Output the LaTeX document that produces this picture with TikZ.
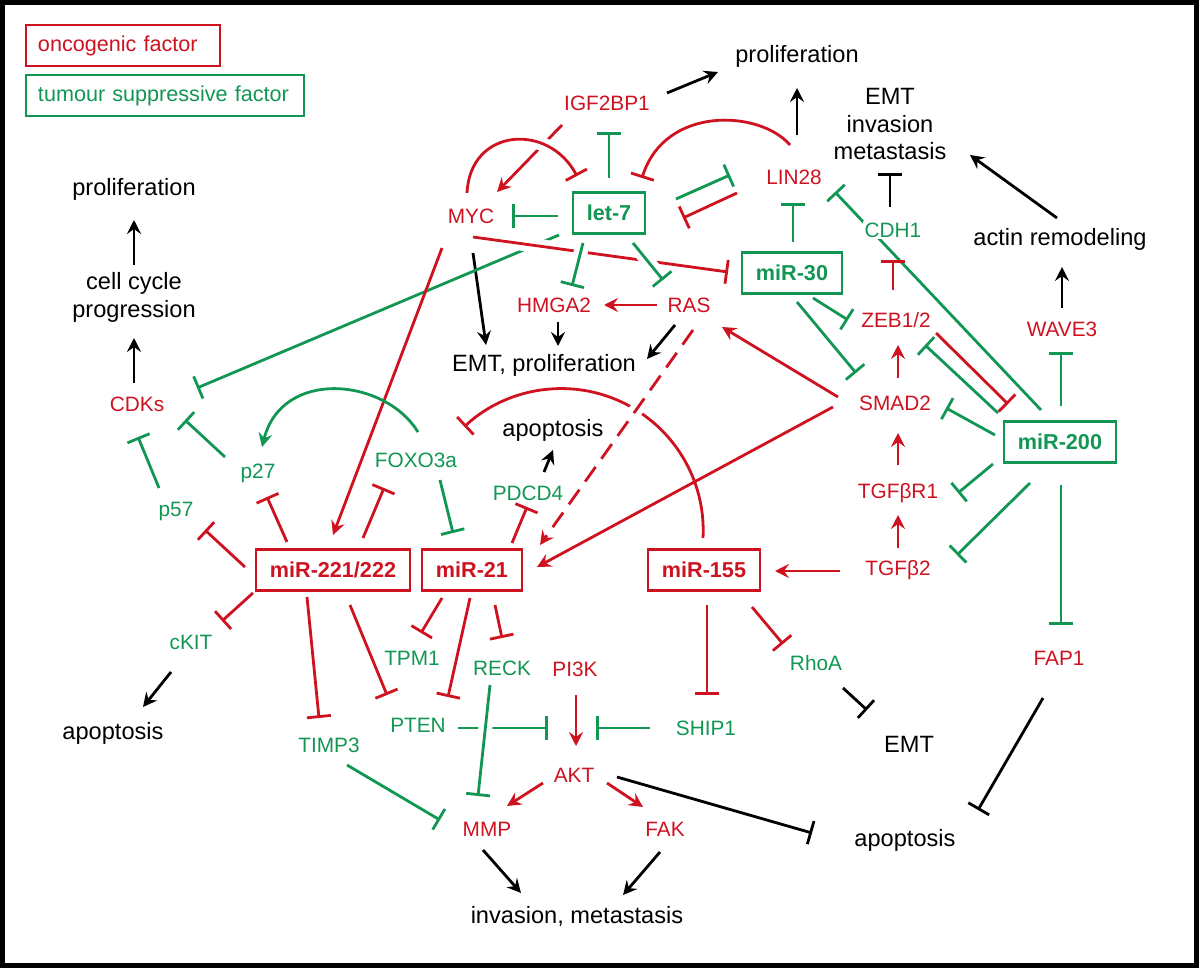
\documentclass[tikz,border=0pt]{standalone}
\usepackage{fontspec}
\setmainfont{Liberation Sans}
\usepackage{tikz}
\usetikzlibrary{arrows.meta,calc,backgrounds}
\definecolor{onco}{RGB}{206,18,32}
\definecolor{supp}{RGB}{18,150,84}

\begin{document}
\begin{tikzpicture}[x=0.5pt,y=-0.5pt,
	txt/.style={font=\fontsize{11.8}{14}\selectfont,inner sep=1pt,align=center},
	og/.style={font=\fontsize{10.4}{12}\selectfont,inner sep=1pt,text=onco},
	ts/.style={font=\fontsize{10.4}{12}\selectfont,inner sep=1pt,text=supp},
	mirbox/.style={draw,line width=1.1pt,font=\fontsize{10.8}{12}\selectfont\bfseries,inner xsep=7pt,minimum height=20.5pt},
	key/.style={anchor=west,draw,line width=1pt,inner xsep=6pt,minimum height=20.5pt,align=left,font=\fontsize{10.8}{12}\selectfont},
	act/.style={line width=1.4pt,-{Stealth[length=7pt,width=7pt,inset=2.5pt]}},
	inh/.style={line width=1.4pt,-{Bar[width=12pt]}},
	halo/.style={preaction={draw=white,line width=7pt,solid,-}}]
	\useasboundingbox (0,0) rectangle (1200,968);
	\draw[line width=2.5pt] (2.5,2.5) rectangle (1196,965.5);
	
	\node[key,draw=onco,text=onco,text width=85pt] (keyonco) at (25,45.5) {oncogenic factor};
	\node[key,draw=supp,text=supp,text width=127pt] (keysupp) at (25,96) {tumour suppressive factor};
	
	\node[txt] (prolifL) at (134,189) {proliferation};
	\node[txt] (cellcyc) at (134,297) {cell cycle\\progression};
	\node[txt] (apoptL) at (113,733) {apoptosis};
	\node[txt] (prolifT) at (797,56) {proliferation};
	\node[txt,font=\fontsize{11.8}{13.75}\selectfont] (EMTinv) at (890,124) {EMT\\invasion\\metastasis};
	\node[txt] (actin) at (1060,239) {actin remodeling};
	\node[txt] (EMTprol) at (544,365) {EMT, proliferation};
	\node[txt] (apoptM) at (553,430) {apoptosis};
	\node[txt] (EMTr) at (909,744) {EMT};
	\node[txt] (apoptR) at (905,840) {apoptosis};
	\node[txt] (invmet) at (577,916) {invasion, metastasis};
	
	\node[og] (IGF) at (607,103) {IGF2BP1};
	\node[og] (MYC) at (471,216) {MYC};
	\node[og] (LIN) at (794,177) {LIN28};
	\node[og] (HMGA) at (554,305) {HMGA2};
	\node[og] (RAS) at (689,305) {RAS};
	\node[og] (CDKs) at (137,404) {CDKs};
	\node[og] (ZEB) at (896,320) {ZEB1/2};
	\node[og] (SMAD) at (895,403) {SMAD2};
	\node[og] (TGFR) at (898,493) {TGFβR1};
	\node[og] (TGFB) at (898,570) {TGFβ2};
	\node[og] (WAVE) at (1062,329) {WAVE3};
	\node[og] (FAP) at (1059,658) {FAP1};
	\node[og] (PIK) at (575,669) {PI3K};
	\node[og] (AKT) at (574,775) {AKT};
	\node[og] (MMP) at (487,829) {MMP};
	\node[og] (FAK) at (665,829) {FAK};
	\node[ts] (p27) at (258,473) {p27};
	\node[ts] (p57) at (176,512) {p57};
	\node[ts] (cKIT) at (191,642) {cKIT};
	\node[ts] (FOXO) at (416,460) {FOXO3a};
	\node[ts] (PDCD) at (528,493) {PDCD4};
	\node[ts] (TPM) at (412,658) {TPM1};
	\node[ts] (RECK) at (502,668) {RECK};
	\node[ts] (PTEN) at (418,725) {PTEN};
	\node[ts] (TIMP) at (329,745) {TIMP3};
	\node[ts] (SHIP) at (706,728) {SHIP1};
	\node[ts] (RhoA) at (816,663) {RhoA};
	\node[ts,fill=white] (CDH) at (893,230) {CDH1};
	
	\node[mirbox,supp] (let7) at (609,213) {let-7};
	\node[mirbox,supp] (mir30) at (792,273) {miR-30};
	\node[mirbox,supp] (mir200) at (1060,442) {miR-200};
	\node[mirbox,onco] (mir221) at (333,570) {miR-221/222};
	\node[mirbox,onco] (mir21) at (472,570) {miR-21};
	\node[mirbox,onco] (mir155) at (704,570) {miR-155};
	
	% outcomes
	\draw[act] ($(cellcyc)+(0,-32)$) -- ($(prolifL)+(0,31)$);
	\draw[act] ($(CDKs)+(-3,-21)$) -- ($(cellcyc)+(0,41)$);
	\draw[act] ($(IGF)+(60,-10)$) -- ($(prolifT)+(-79,16)$);
	\draw[act] ($(LIN)+(3,-42)$) -- ($(prolifT)+(0,32)$);
	\draw[act] ($(actin)+(-3,-21)$) -- ($(EMTinv)+(80,31)$);
	\draw[act] ($(WAVE)+(0,-21)$) -- ($(actin)+(2,28)$);
	\draw[inh] ($(CDH)+(-3,-23)$) -- ($(EMTinv)+(0,49)$);
	\draw[act] ($(HMGA)+(4,17)$) -- ($(EMTprol)+(14,-19)$);
	\draw[act] ($(MYC)+(2,37)$) -- ($(EMTprol)+(-58,-20)$);
	\draw[act] ($(RAS)+(-14,20)$) -- ($(EMTprol)+(103,-6)$);
	\draw[act] ($(PDCD)+(16,-21)$) -- ($(apoptM)+(0,20)$);
	\draw[act] ($(cKIT)+(-20,30)$) -- ($(apoptL)+(30,-26)$);
	\draw[act] ($(MMP)+(-4,21)$) -- ($(invmet)+(-56,-23)$);
	\draw[act] ($(FAK)+(-5,23)$) -- ($(invmet)+(46,-21)$);
	\draw[inh] ($(AKT)+(43,2)$) -- ($(apoptR)+(-93,-7)$);
	\draw[inh] ($(FAP)+(-16,40)$) -- ($(apoptR)+(73,-30)$);
	\draw[inh] ($(RhoA)+(27,25)$) -- ($(EMTr)+(-42,-34)$);
	
	% let-7 and miR-30
	\draw[act,onco] ($(IGF)+(-45,22)$) -- ($(MYC)+(26,-24)$);
	\draw[inh,onco,halo] ($(MYC)+(-4,-23)$) .. controls +(3,-65) and +(-29,-54) .. ($(let7)+(-32,-37)$);
	\draw[inh,onco] ($(LIN)+(-4,-32)$) .. controls +(-30,-35) and +(23,-73) .. ($(let7)+(33,-35)$);
	\draw[inh,onco] ($(LIN)+(-57,16)$) -- ($(let7)+(74,5)$);
	\draw[inh,supp] ($(let7)+(67,-14)$) -- ($(LIN)+(-64,-2)$);
	\draw[inh,supp] ($(let7)+(0,-35)$) -- ($(IGF)+(2,29)$);
	\draw[inh,supp] ($(let7)+(-51,3)$) -- ($(MYC)+(41,0)$);
	\draw[inh,supp] ($(let7)+(-50,22)$) -- ($(CDKs)+(60,-16)$);
	\draw[inh,onco,halo] ($(MYC)+(2,21)$) -- ($(mir30)+(-64,-1)$);
	\draw[inh,supp,halo] ($(let7)+(-26,30)$) -- ($(HMGA)+(18,-19)$);
	\draw[inh,supp,halo] ($(let7)+(24,30)$) -- ($(RAS)+(-26,-25)$);
	\draw[act,onco] ($(RAS)+(-32,0)$) -- ($(HMGA)+(50,0)$);
	\draw[inh,supp] ($(mir30)+(1,-31)$) -- ($(LIN)+(-1,26)$);
	\draw[inh,supp] ($(mir30)+(21,25)$) -- ($(ZEB)+(-48,0)$);
	\draw[inh,supp] ($(mir30)+(5,29)$) -- ($(SMAD)+(-39,-30)$);
	
	% miR-200 and TGF-beta
	\begin{scope}[on background layer]
		\draw[inh,supp] ($(mir200)+(-19,-32)$) -- ($(LIN)+(41,15)$);
	\end{scope}
	\draw[inh,onco] ($(ZEB)+(-3,-30)$) -- ($(CDH)+(0,30)$);
	\draw[inh,onco] ($(ZEB)+(40,13)$) -- ($(mir200)+(-52,-38)$);
	\draw[inh,supp] ($(mir200)+(-62,-29)$) -- ($(ZEB)+(29,25)$);
	\draw[inh,supp] ($(mir200)+(-65,-7)$) -- ($(SMAD)+(51,5)$);
	\draw[inh,supp] ($(mir200)+(-67,22)$) -- ($(TGFR)+(60,0)$);
	\draw[inh,supp] ($(mir200)+(-30,41)$) -- ($(TGFB)+(59,-15)$);
	\draw[inh,supp] ($(mir200)+(1,-36)$) -- ($(WAVE)+(-1,23)$);
	\draw[inh,supp] ($(mir200)+(1,43)$) -- ($(FAP)+(2,-33)$);
	\draw[act,onco] ($(SMAD)+(3,-25)$) -- ($(ZEB)+(2,25)$);
	\draw[act,onco] ($(TGFR)+(0,-28)$) -- ($(SMAD)+(3,30)$);
	\draw[act,onco] ($(TGFB)+(0,-22)$) -- ($(TGFR)+(0,22)$);
	\draw[act,onco] ($(TGFB)+(-58,1)$) -- ($(mir155)+(71,1)$);
	\draw[act,onco] ($(SMAD)+(-57,-6)$) -- ($(RAS)+(33,22)$);
	\draw[act,onco] ($(SMAD)+(-62,4)$) -- ($(mir21)+(65,-3)$);
	
	% miR-221/222, miR-21, miR-155
	\draw[act,onco] ($(MYC)+(-29,32)$) -- ($(mir221)+(0,-35)$);
	\draw[inh,onco] ($(mir221)+(30,-32)$) -- ($(FOXO)+(-32,28)$);
	\draw[inh,onco] ($(mir221)+(-46,-28)$) -- ($(p27)+(9,24)$);
	\draw[inh,onco] ($(mir221)+(-88,-3)$) -- ($(p57)+(29,18)$);
	\draw[inh,onco] ($(mir221)+(-80,23)$) -- ($(cKIT)+(31,-21)$);
	\draw[inh,onco] ($(mir221)+(-26,27)$) -- ($(TIMP)+(-10,-27)$);
	\draw[inh,onco] ($(mir221)+(17,35)$) -- ($(PTEN)+(-31,-30)$);
	\draw[inh,onco] ($(mir21)+(-30,28)$) -- ($(TPM)+(9,-25)$);
	\draw[inh,onco] ($(mir21)+(-2,28)$) -- ($(PTEN)+(30,-28)$);
	\draw[inh,onco] ($(mir21)+(23,35)$) -- ($(RECK)+(0,-30)$);
	\draw[inh,onco] ($(mir21)+(40,-27)$) -- ($(PDCD)+(-1,14)$);
	\draw[inh,onco] ($(mir155)+(-1,-32)$) arc[start angle=3,end angle=-133,radius=142];
	\draw[inh,onco] ($(mir155)+(3,35)$) -- ($(SHIP)+(1,-33)$);
	\draw[inh,onco] ($(mir155)+(48,37)$) -- ($(RhoA)+(-33,-19)$);
	\draw[act,onco,halo,dash pattern=on 9pt off 5pt] ($(RAS)+(4,25)$) -- ($(mir21)+(68,-25)$);
	\draw[act,supp] ($(FOXO)+(2,-28)$) .. controls +(-33,-54) and +(20,-79) .. ($(p27)+(4,-26)$);
	\draw[inh,supp] ($(FOXO)+(24,20)$) -- ($(mir21)+(-19,-37)$);
	\draw[inh,supp] ($(p57)+(-17,-24)$) -- ($(CDKs)+(1,33)$);
	\draw[inh,supp] ($(p27)+(-33,-16)$) -- ($(CDKs)+(48,16)$);
	
	% AKT pathway
	\draw[inh,supp] ($(PTEN)+(40,3)$) -- ($(AKT)+(-26,-47)$);
	\draw[inh,supp] ($(SHIP)+(-56,0)$) -- ($(AKT)+(22,-47)$);
	\draw[inh,supp,halo] ($(RECK)+(-12,17)$) -- ($(MMP)+(-9,-33)$);
	\draw[inh,supp] ($(TIMP)+(18,20)$) -- ($(MMP)+(-47,-9)$);
	\draw[act,onco] ($(PIK)+(1,26)$) -- ($(AKT)+(2,-29)$);
	\draw[act,onco] ($(AKT)+(-31,8)$) -- ($(MMP)+(20,-23)$);
	\draw[act,onco] ($(AKT)+(33,8)$) -- ($(FAK)+(-22,-22)$);
\end{tikzpicture}
\end{document}
